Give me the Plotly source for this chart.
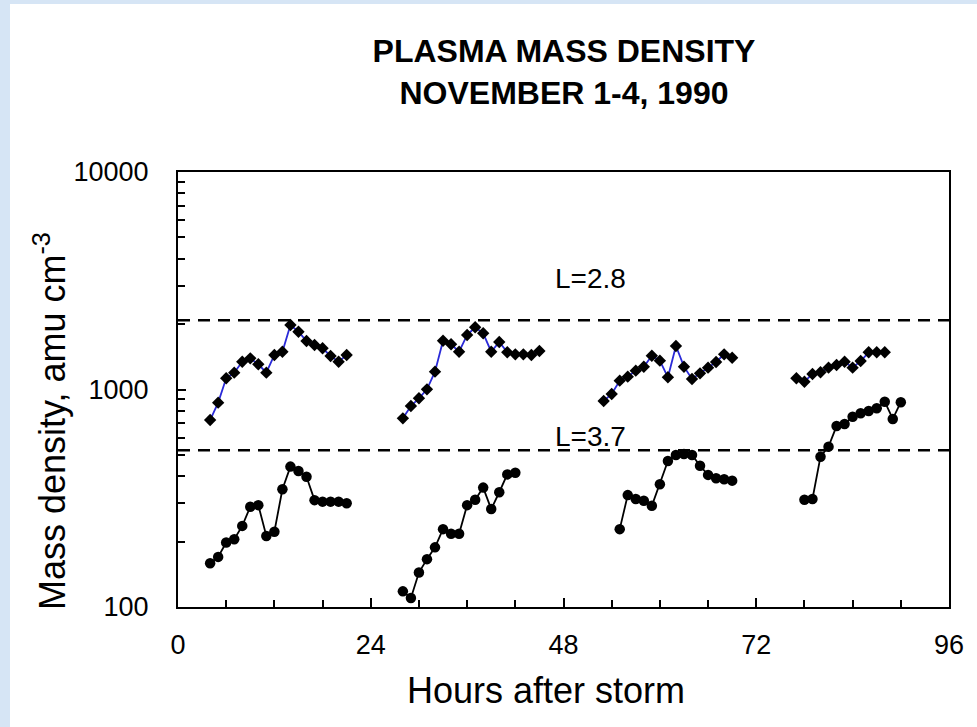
import math
import plotly.graph_objects as go

# ---- data: plasma mass density (amu cm^-3) vs hours after storm ----
hours_outer_1 = list(range(4, 22))
dens_outer_1 = [724, 870, 1126, 1195, 1342, 1391, 1306, 1195, 1441, 1492,
                1980, 1844, 1671, 1602, 1547, 1426, 1342, 1441]
hours_outer_2 = list(range(28, 46))
dens_outer_2 = [737, 840, 911, 1002, 1208, 1676, 1614, 1492, 1781, 1932,
                1813, 1492, 1653, 1483, 1451, 1451, 1441, 1503]
hours_outer_3 = list(range(53, 70))
dens_outer_3 = [885, 954, 1098, 1146, 1221, 1273, 1430, 1357, 1138, 1585,
                1273, 1118, 1187, 1260, 1338, 1451, 1400]
hours_outer_4 = list(range(77, 89))
dens_outer_4 = [1126, 1086, 1179, 1200, 1260, 1296, 1342, 1260, 1352, 1483,
                1483, 1483]

hours_inner_1 = list(range(4, 22))
dens_inner_1 = [159, 170, 198, 205, 236, 289, 294, 212, 222, 348,
                442, 422, 397, 310, 305, 305, 305, 300]
hours_inner_2 = list(range(28, 43))
dens_inner_2 = [118, 110, 144, 166, 188, 228, 217, 217, 294, 311,
                354, 282, 337, 407, 414]
hours_inner_3 = list(range(55, 70))
dens_inner_3 = [228, 327, 314, 308, 292, 367, 469, 500, 505, 500,
                446, 405, 391, 387, 381]
hours_inner_4 = list(range(78, 91))
dens_inner_4 = [311, 314, 491, 546, 679, 694, 750, 777, 796, 820,
                879, 732, 874]

# reference levels (dashed) and their labels
level_names = ["L=2.8", "L=3.7"]
level_values = [2080, 525]
label_hours = [51.4, 51.4]
label_values = [3250, 605]

x_ticks = [0, 24, 48, 72, 96]
y_ticks = [100, 1000, 10000]
y_minor = [m * d for d in (100, 1000) for m in range(2, 10)]

FONT = "Liberation Sans, Arial, sans-serif"
W, H = 977, 727
ML, MR, MT, MB = 178, 28, 172, 120
PW, PH = W - ML - MR, H - MT - MB

fig = go.Figure()

for hx, dy in [(hours_outer_1, dens_outer_1), (hours_outer_2, dens_outer_2),
               (hours_outer_3, dens_outer_3), (hours_outer_4, dens_outer_4)]:
    fig.add_trace(go.Scatter(
        x=hx, y=dy, mode="lines+markers",
        line=dict(color="#2a2ad8", width=1.8),
        marker=dict(symbol="diamond", size=9.5, color="black"),
        showlegend=False))

for hx, dy in [(hours_inner_1, dens_inner_1), (hours_inner_2, dens_inner_2),
               (hours_inner_3, dens_inner_3), (hours_inner_4, dens_inner_4)]:
    fig.add_trace(go.Scatter(
        x=hx, y=dy, mode="lines+markers",
        line=dict(color="black", width=1.8),
        marker=dict(symbol="circle", size=10.5, color="black"),
        showlegend=False))

for name, val, lx, ly in zip(level_names, level_values, label_hours, label_values):
    fig.add_trace(go.Scatter(
        x=[x_ticks[0], x_ticks[-1]], y=[val, val], mode="lines",
        line=dict(color="black", width=2.5, dash="12px,8px"),
        showlegend=False, hoverinfo="skip"))
    fig.add_annotation(x=lx, y=math.log10(ly), xref="x", yref="y",
                       xanchor="center", yanchor="middle",
                       text=name, showarrow=False,
                       font=dict(family=FONT, size=28, color="black"))

# light-blue page border strips (left and top)
blue = "#d6e5f5"
fig.add_shape(type="rect", xref="paper", yref="paper",
              x0=-ML / PW, x1=(10 - ML) / PW, y0=-MB / PH, y1=1 + MT / PH,
              fillcolor=blue, line=dict(width=0), layer="below")
fig.add_shape(type="rect", xref="paper", yref="paper",
              x0=-ML / PW, x1=1 + MR / PW, y0=1 + (MT - 4) / PH, y1=1 + MT / PH,
              fillcolor=blue, line=dict(width=0), layer="below")

# axis titles
fig.add_annotation(x=(50 - ML) / PW, y=1 - (421 - MT) / PH, xref="paper", yref="paper",
                   xanchor="center", yanchor="middle",
                   text="Mass density, amu cm<sup>-3</sup>", textangle=-90,
                   showarrow=False, font=dict(family=FONT, size=36, color="black"))
fig.add_annotation(x=(546 - ML) / PW, y=1 - (690 - MT) / PH, xref="paper", yref="paper",
                   xanchor="center", yanchor="middle",
                   text="Hours after storm", showarrow=False,
                   font=dict(family=FONT, size=36, color="black"))

axis_common = dict(showline=True, linecolor="black", linewidth=2, mirror=True,
                   showgrid=False, zeroline=False, ticks="inside",
                   tickcolor="black", tickwidth=1.5,
                   tickfont=dict(family=FONT, size=27, color="black"))

fig.update_xaxes(range=[0, 96], tickvals=x_ticks, ticklen=9,
                 minor=dict(dtick=6, tick0=0, ticks="inside", ticklen=7,
                            tickcolor="black", tickwidth=1.5),
                 ticklabelstandoff=13, **axis_common)
fig.update_yaxes(type="log", range=[2, 4], tickvals=y_ticks,
                 ticktext=[str(v) for v in y_ticks], ticklen=8,
                 minor=dict(tickvals=y_minor, ticks="inside", ticklen=7,
                            tickcolor="black", tickwidth=1.5),
                 ticklabelstandoff=22, **axis_common)

fig.update_layout(
    width=W, height=H,
    margin=dict(l=ML, r=MR, t=MT, b=MB),
    paper_bgcolor="white", plot_bgcolor="white",
    title=dict(text="<b>PLASMA MASS DENSITY<br>NOVEMBER 1-4, 1990</b>",
               x=(564) / W, xanchor="center", xref="container",
               y=1 - 62 / H, yanchor="middle", yref="container",
               font=dict(family=FONT, size=32, color="black")),
)

fig.write_html("out.html")
